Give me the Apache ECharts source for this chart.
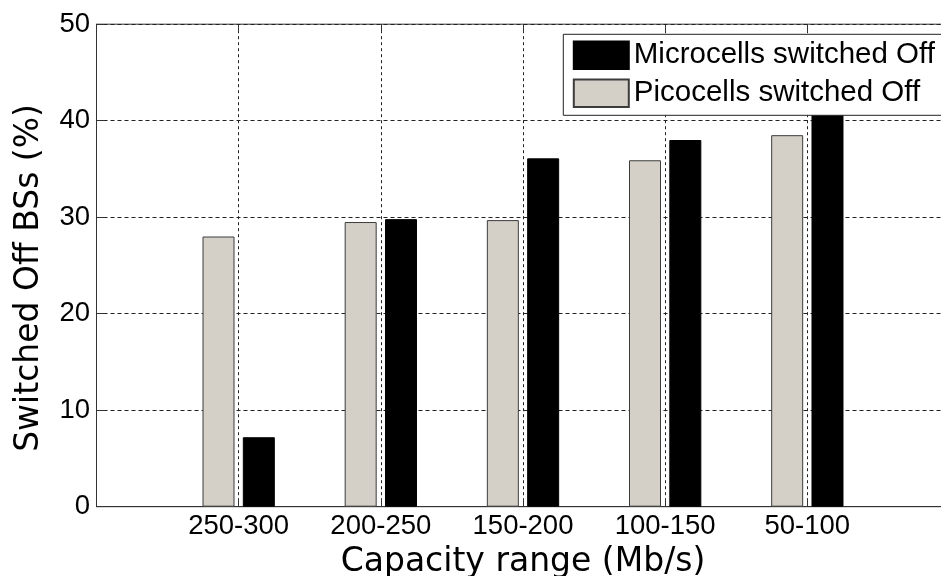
<!DOCTYPE html>
<html>
<head>
<meta charset="utf-8">
<script src="https://cdn.jsdelivr.net/npm/echarts@6/dist/echarts.min.js"></script>
<style>
  html, body { margin: 0; padding: 0; background: #fff; }
  #chart { width: 941px; height: 576px; }
</style>
</head>
<body>
<div id="chart"></div>
<script>
// ---- data ----
const categories = ['250-300', '200-250', '150-200', '100-150', '50-100'];
const picocellsOff = [28.0, 29.5, 29.7, 35.9, 38.5];
const microcellsOff = [7.2, 29.8, 36.1, 38.0, 42.0];
const yTicks = [0, 10, 20, 30, 40, 50];
const seriesNames = ['Picocells switched Off', 'Microcells switched Off'];
const legendOrder = ['Microcells switched Off', 'Picocells switched Off'];
const xTitle = 'Capacity range (Mb/s)';
const yTitle = 'Switched Off BSs (%)';

// x axis runs 0..6 with categories at 1..5 (empty slots at the ends)
const axisCats = [''].concat(categories, ['']);
const pad = arr => [null].concat(arr, [null]);

const chart = echarts.init(document.getElementById('chart'), null, { renderer: 'canvas' });

const tickFont = { fontFamily: 'Liberation Sans', fontSize: 27.5, color: '#000' };
const titleFont = { fontFamily: 'DejaVu Sans', fontSize: 33, color: '#000' };
const gridColor = '#222';
const frameColor = '#333';

chart.setOption({
  animation: false,
  backgroundColor: '#fff',
  grid: {
    left: 96.5, top: 24.2, width: 853, height: 482.5,
    containLabel: false,
    outerBoundsMode: 'none',
    show: true, borderColor: frameColor, borderWidth: 1, backgroundColor: 'transparent'
  },
  legend: {
    data: legendOrder,
    orient: 'vertical',
    left: 563.3, top: 34.3,
    padding: [6, 30, 7, 9.5],
    itemWidth: 55, itemHeight: 27.5, itemGap: 8,
    icon: 'rect',
    selectedMode: false,
    backgroundColor: '#fff',
    borderColor: '#222', borderWidth: 1,
    textStyle: { fontFamily: 'Liberation Sans', fontSize: 29.5, color: '#000' }
  },
  xAxis: [
    {
      type: 'category',
      data: axisCats,
      boundaryGap: false,
      position: 'bottom',
      name: xTitle,
      nameLocation: 'middle',
      nameGap: 33,
      nameTextStyle: titleFont,
      axisLine: { show: true, lineStyle: { color: frameColor, width: 1 } },
      axisTick: { show: true, inside: true, length: 8, lineStyle: { color: frameColor } },
      axisLabel: Object.assign({ margin: 6, interval: 0 }, tickFont),
      splitLine: { show: true, lineStyle: { color: gridColor, type: [3, 3], width: 1 } }
    },
    {
      type: 'category',
      data: axisCats,
      boundaryGap: false,
      position: 'top',
      axisLine: { show: false },
      axisTick: { show: true, inside: true, length: 8, lineStyle: { color: frameColor } },
      axisLabel: { show: false },
      splitLine: { show: false }
    }
  ],
  yAxis: {
    type: 'value',
    min: yTicks[0], max: yTicks[yTicks.length - 1], interval: 10,
    name: yTitle,
    nameLocation: 'middle',
    nameGap: 51,
    nameTextStyle: Object.assign({ padding: [0, 25, 0, 0] }, titleFont),
    axisLine: { show: true, lineStyle: { color: frameColor, width: 1 } },
    axisTick: { show: true, inside: true, length: 8, lineStyle: { color: frameColor } },
    axisLabel: Object.assign({ margin: 6.5 }, tickFont),
    splitLine: { show: true, lineStyle: { color: gridColor, type: [4, 3], width: 1 } }
  },
  series: [
    {
      name: seriesNames[0],
      type: 'bar',
      xAxisIndex: 0,
      data: pad(picocellsOff),
      barWidth: 32,
      barGap: '26%',
      itemStyle: { color: '#d4d0c8', borderColor: '#3c3c3c', borderWidth: 1 }
    },
    {
      name: seriesNames[1],
      type: 'bar',
      xAxisIndex: 0,
      data: pad(microcellsOff),
      barWidth: 32,
      barGap: '26%',
      itemStyle: { color: '#000', borderColor: '#000', borderWidth: 1 }
    }
  ]
});
</script>
</body>
</html>
